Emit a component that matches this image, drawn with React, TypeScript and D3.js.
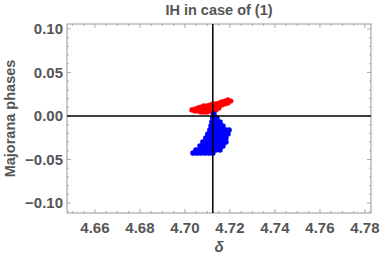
import React, { useEffect, useRef } from 'react'
import { range, scaleLinear, select } from 'd3'

// delta (x) and Majorana phase (y) samples
const redPoints: [number, number][] = [
  [4.7031, 0.0069],
  [4.7044, 0.008], [4.7044, 0.0057],
  [4.7058, 0.0092], [4.7058, 0.0057],
  [4.7071, 0.0103], [4.7071, 0.0069], [4.7071, 0.0046],
  [4.7084, 0.0115], [4.7084, 0.008], [4.7084, 0.0046],
  [4.7098, 0.0115], [4.7098, 0.008], [4.7098, 0.0046],
  [4.7111, 0.0126], [4.7111, 0.0092], [4.7111, 0.0057],
  [4.7124, 0.0138], [4.7124, 0.0103], [4.7124, 0.0069], [4.7124, 0.0034],
  [4.7138, 0.0138], [4.7138, 0.0103], [4.7138, 0.0069],
  [4.7151, 0.0149], [4.7151, 0.0115], [4.7151, 0.0092],
  [4.7164, 0.0161], [4.7164, 0.0126],
  [4.7178, 0.0172], [4.7178, 0.0138],
  [4.7191, 0.0184], [4.7191, 0.0149],
  [4.7204, 0.0172],
]

const bluePoints: [number, number][] = [
  [4.7129, 0.0023],
  [4.7124, -0.0023], [4.7142, -0.0023],
  [4.712, -0.0069], [4.7138, -0.0069], [4.7156, -0.0069],
  [4.7116, -0.0115], [4.7133, -0.0115], [4.7151, -0.0115], [4.7169, -0.0115],
  [4.7111, -0.0161], [4.7129, -0.0161], [4.7147, -0.0161], [4.7164, -0.0161],
  [4.7182, -0.0161], [4.7196, -0.0161],
  [4.7102, -0.0207], [4.712, -0.0207], [4.7138, -0.0207], [4.7156, -0.0207],
  [4.7173, -0.0207], [4.7191, -0.0207],
  [4.7093, -0.0253], [4.7111, -0.0253], [4.7129, -0.0253], [4.7147, -0.0253],
  [4.7164, -0.0253], [4.7182, -0.0253],
  [4.708, -0.0299], [4.7098, -0.0299], [4.7116, -0.0299], [4.7133, -0.0299],
  [4.7151, -0.0299], [4.7169, -0.0299], [4.7182, -0.0299],
  [4.7067, -0.0345], [4.7084, -0.0345], [4.7102, -0.0345], [4.712, -0.0345],
  [4.7138, -0.0345], [4.7156, -0.0345], [4.7169, -0.0345],
  [4.7049, -0.0391], [4.7067, -0.0391], [4.7084, -0.0391], [4.7102, -0.0391],
  [4.712, -0.0391], [4.7138, -0.0391], [4.7156, -0.0391],
  [4.7036, -0.0425], [4.7053, -0.0425], [4.7071, -0.0425], [4.7089, -0.0425],
  [4.7107, -0.0425], [4.7124, -0.0425],
]

const xTicks = [4.66, 4.68, 4.7, 4.72, 4.74, 4.76, 4.78]
const yTicks = [-0.1, -0.05, 0, 0.05, 0.1]
const title = 'IH in case of (1)'
const xLabel = 'δ'
const yLabel = 'Majorana phases'

const App = () => {
  const ref = useRef<SVGSVGElement>(null)

  useEffect(() => {
    main()
  }, [])

  const main = () => {
    const svg = select(ref.current)
    svg.selectAll('*').remove()
    const left = 67,
      right = 371,
      top = 24,
      bottom = 213
    const textColor = '#555'
    const frameColor = '#999'

    const x = scaleLinear().domain([4.6476, 4.7827]).range([left, right])
    const y = scaleLinear().domain([-0.1115, 0.1057]).range([bottom, top])

    const g = svg.append('g')

    // minor / major ticks on all four sides
    const xMinor = range(4.65, 4.781, 0.005)
    const yMinor = range(-0.11, 0.1051, 0.01)
    const isMajor = (v: number, step: number) =>
      Math.abs(v / step - Math.round(v / step)) < 1e-6

    xMinor.forEach((v) => {
      const len = isMajor(v, 0.02) ? 4 : 2
      const px = x(v)
      if (px < left || px > right) return
      g.append('line').attr('x1', px).attr('x2', px).attr('y1', bottom).attr('y2', bottom - len)
        .attr('stroke', frameColor).attr('stroke-width', 0.8)
      g.append('line').attr('x1', px).attr('x2', px).attr('y1', top).attr('y2', top + len)
        .attr('stroke', frameColor).attr('stroke-width', 0.8)
    })
    yMinor.forEach((v) => {
      const len = isMajor(v, 0.05) ? 4 : 2
      const py = y(v)
      if (py < top || py > bottom) return
      g.append('line').attr('x1', left).attr('x2', left + len).attr('y1', py).attr('y2', py)
        .attr('stroke', frameColor).attr('stroke-width', 0.8)
      g.append('line').attr('x1', right).attr('x2', right - len).attr('y1', py).attr('y2', py)
        .attr('stroke', frameColor).attr('stroke-width', 0.8)
    })

    g.append('rect')
      .attr('x', left)
      .attr('y', top)
      .attr('width', right - left)
      .attr('height', bottom - top)
      .attr('fill', 'none')
      .attr('stroke', frameColor)
      .attr('stroke-width', 1)

    // scatter
    g.selectAll('.red')
      .data(redPoints)
      .enter()
      .append('circle')
      .attr('cx', (d) => x(d[0]))
      .attr('cy', (d) => y(d[1]))
      .attr('r', 2.6)
      .attr('fill', '#ff0000')

    g.selectAll('.blue')
      .data(bluePoints)
      .enter()
      .append('circle')
      .attr('cx', (d) => x(d[0]))
      .attr('cy', (d) => y(d[1]))
      .attr('r', 2.8)
      .attr('fill', '#0000ff')

    // axes through origin (3π/2, 0)
    g.append('line').attr('x1', x(1.5 * Math.PI)).attr('x2', x(1.5 * Math.PI))
      .attr('y1', top).attr('y2', bottom).attr('stroke', '#000').attr('stroke-width', 1.5)
    g.append('line').attr('x1', left).attr('x2', right)
      .attr('y1', y(0)).attr('y2', y(0)).attr('stroke', '#000').attr('stroke-width', 1.5)

    const font = "'Liberation Sans', Arial, sans-serif"

    g.selectAll('.xt')
      .data(xTicks)
      .enter()
      .append('text')
      .attr('x', (d) => x(d))
      .attr('y', 233)
      .attr('text-anchor', 'middle')
      .attr('font-family', font)
      .attr('font-weight', 'bold')
      .attr('font-size', 15)
      .attr('fill', textColor)
      .text((d) => d.toFixed(2))

    g.selectAll('.yt')
      .data(yTicks)
      .enter()
      .append('text')
      .attr('x', 63)
      .attr('y', (d) => y(d))
      .attr('dy', '0.36em')
      .attr('text-anchor', 'end')
      .attr('font-family', font)
      .attr('font-weight', 'bold')
      .attr('font-size', 15)
      .attr('fill', textColor)
      .text((d) => (d < 0 ? '\u2212' : '') + Math.abs(d).toFixed(2))

    g.append('text')
      .attr('x', (left + right) / 2)
      .attr('y', 15)
      .attr('text-anchor', 'middle')
      .attr('font-family', font)
      .attr('font-weight', 'bold')
      .attr('font-size', 14.5)
      .attr('fill', textColor)
      .text(title)

    g.append('text')
      .attr('x', (left + right) / 2)
      .attr('y', 252)
      .attr('text-anchor', 'middle')
      .attr('font-family', font)
      .attr('font-style', 'italic')
      .attr('font-weight', 'bold')
      .attr('font-size', 15)
      .attr('fill', textColor)
      .text(xLabel)

    g.append('text')
      .attr('transform', `translate(15, ${(top + bottom) / 2}) rotate(-90)`)
      .attr('text-anchor', 'middle')
      .attr('font-family', font)
      .attr('font-weight', 'bold')
      .attr('font-size', 14.5)
      .attr('fill', textColor)
      .text(yLabel)
  }

  return (
    <svg
      ref={ref}
      width={382}
      height={258}
      style={{ position: 'absolute', left: 0, top: 0 }}
    ></svg>
  )
}

export default App
